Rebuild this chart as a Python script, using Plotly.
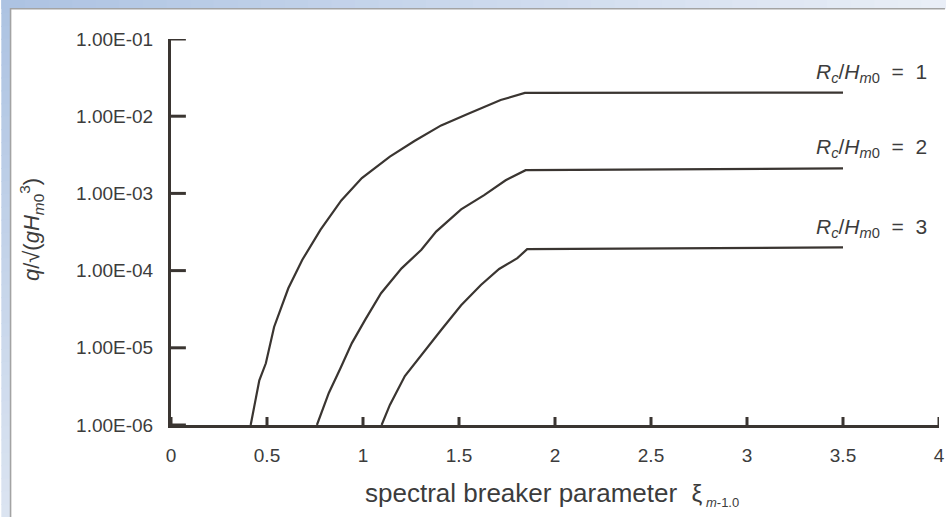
import plotly.graph_objects as go

# ---- data ----
xi_rc1 = [0.415, 0.46, 0.494, 0.537, 0.611, 0.684, 0.779, 0.887, 0.994, 1.14, 1.27, 1.407, 1.545, 1.717, 1.843, 3.5]
q_rc1 = [1.0e-6, 3.8e-6, 6.3e-6, 1.86e-5, 5.9e-5, 1.38e-4, 3.4e-4, 8.1e-4, 1.58e-3, 3.0e-3, 4.8e-3, 7.6e-3, 1.07e-2, 1.62e-2, 2.0e-2, 2.02e-2]

xi_rc2 = [0.76, 0.822, 0.882, 0.942, 1.011, 1.094, 1.201, 1.304, 1.381, 1.511, 1.631, 1.743, 1.847, 3.5]
q_rc2 = [1.0e-6, 2.6e-6, 5.4e-6, 1.15e-5, 2.3e-5, 5.1e-5, 1.07e-4, 1.86e-4, 3.2e-4, 6.2e-4, 9.5e-4, 1.48e-3, 2.0e-3, 2.11e-3]

xi_rc3 = [1.097, 1.14, 1.218, 1.33, 1.407, 1.511, 1.614, 1.709, 1.804, 1.855, 3.5]
q_rc3 = [1.0e-6, 1.82e-6, 4.3e-6, 9.8e-6, 1.7e-5, 3.55e-5, 6.5e-5, 1.05e-4, 1.45e-4, 1.9e-4, 2.0e-4]

series_labels = ["1", "2", "3"]
label_log_q = [-1.44, -2.41, -3.45]   # log10 of label positions

y_tickvals = [1e-6, 1e-5, 1e-4, 1e-3, 1e-2, 1e-1]
y_ticktext = ["1.00E-06", "1.00E-05", "1.00E-04", "1.00E-03", "1.00E-02", "1.00E-01"]
x_tickvals = [0, 0.5, 1, 1.5, 2, 2.5, 3, 3.5, 4]
x_ticktext = ["0", "0.5", "1", "1.5", "2", "2.5", "3", "3.5", "4"]

# ---- styling ----
W, H = 951, 517
L, R, T, B = 171, 6, 39, 92
INK = "#3a3531"
TXT = "#3c3c3c"
FONT = "Liberation Sans, Arial, sans-serif"
pw, ph = W - L - R, H - T - B
X_RANGE = [0, 4]
Y_LOG_RANGE = [-6, -1]
px_per_x = pw / (X_RANGE[1] - X_RANGE[0])
px_per_decade = ph / (Y_LOG_RANGE[1] - Y_LOG_RANGE[0])

def px_to_paper(px, py):
    return (px - L) / pw, (H - B - py) / ph

def mix(c1, c2, t):
    a = [int(c1[i:i + 2], 16) for i in (1, 3, 5)]
    b = [int(c2[i:i + 2], 16) for i in (1, 3, 5)]
    return "#" + "".join(f"{round(a[k] + (b[k] - a[k]) * t):02x}" for k in range(3))

fig = go.Figure()
for xs, ys, nm in [(xi_rc1, q_rc1, "1"), (xi_rc2, q_rc2, "2"), (xi_rc3, q_rc3, "3")]:
    fig.add_trace(go.Scatter(x=xs, y=ys, mode="lines", name=nm,
                             line=dict(color=INK, width=2.2), showlegend=False,
                             hoverinfo="skip"))

# inward tick marks drawn at the axis tick values (8 px on x, 15 px on y)
ymin = 10 ** Y_LOG_RANGE[0]
tx, ty = [], []
for v in x_tickvals:
    tx += [v, v, None]
    ty += [ymin, ymin * 10 ** (8 / px_per_decade), None]
for v in y_tickvals:
    tx += [X_RANGE[0], X_RANGE[0] + 15 / px_per_x, None]
    ty += [v, v, None]
fig.add_trace(go.Scatter(x=tx, y=ty, mode="lines", line=dict(color=INK, width=3),
                         showlegend=False, hoverinfo="skip", cliponaxis=False))

# decorative frame: gradient strips on top and left, grey border line
shapes = []
N = 40
for i in range(N):
    x0, y0 = px_to_paper(W * i / N, 0)
    x1, y1 = px_to_paper(W * (i + 1) / N + 1, 9)
    shapes.append(dict(type="rect", xref="paper", yref="paper", x0=x0, x1=x1, y0=y1, y1=y0,
                       fillcolor=mix("#adc3e2", "#e9eef7", i / (N - 1)), line=dict(width=0),
                       layer="below"))
for i in range(N):
    x0, y0 = px_to_paper(0, H * i / N)
    x1, y1 = px_to_paper(9, H * (i + 1) / N + 1)
    shapes.append(dict(type="rect", xref="paper", yref="paper", x0=x0, x1=x1, y0=y1, y1=y0,
                       fillcolor=mix("#adc3e2", "#dbe4f1", i / (N - 1)), line=dict(width=0),
                       layer="below"))
x0, y0 = px_to_paper(9, 8)
x1, y1 = px_to_paper(W, 9.6)
shapes.append(dict(type="rect", xref="paper", yref="paper", x0=x0, x1=x1, y0=y1, y1=y0,
                   fillcolor="#a3a3a3", line=dict(width=0), layer="below"))
x0, y0 = px_to_paper(8.5, 8)
x1, y1 = px_to_paper(10.1, H)
shapes.append(dict(type="rect", xref="paper", yref="paper", x0=x0, x1=x1, y0=y1, y1=y0,
                   fillcolor="#a3a3a3", line=dict(width=0), layer="below"))

# series labels
lx = (935 - L) / px_per_x
for lab, ly in zip(series_labels, label_log_q):
    fig.add_annotation(x=lx, y=ly, xref="x", yref="y", xanchor="right", yanchor="middle",
                       showarrow=False,
                       text=f"<i>R</i><sub><i>c</i></sub>/<i>H</i><sub><i>m</i>0</sub>  =  {lab}",
                       font=dict(family=FONT, size=21, color=TXT))

# axis titles
ax, ay = px_to_paper(30, 230)
fig.add_annotation(x=ax, y=ay, xref="paper", yref="paper", showarrow=False, textangle=-90,
                   xanchor="center", yanchor="middle",
                   text="<i>q</i>/√(<i>gH</i><sub><i>m</i>0</sub><sup>3</sup>)",
                   font=dict(family=FONT, size=22, color=TXT))
bx, by = px_to_paper(555, 494)
fig.add_annotation(x=bx, y=by, xref="paper", yref="paper", showarrow=False,
                   xanchor="center", yanchor="middle",
                   text=("spectral breaker parameter  <span style='font-size:24px'>ξ</span>"
                         "<sub><span style='font-size:13px'> <i>m</i>-1.0</span></sub>"),
                   font=dict(family=FONT, size=26, color=TXT))

fig.update_xaxes(range=X_RANGE, tickvals=x_tickvals, ticktext=x_ticktext,
                 showgrid=False, zeroline=False, showline=True, linecolor=INK, linewidth=3,
                 ticks="", ticklabelstandoff=11,
                 tickfont=dict(family=FONT, size=19, color=TXT))
fig.update_yaxes(type="log", range=Y_LOG_RANGE, tickvals=y_tickvals, ticktext=y_ticktext,
                 showgrid=False, zeroline=False, showline=True, linecolor=INK, linewidth=3,
                 ticks="", ticklabelstandoff=11,
                 tickfont=dict(family=FONT, size=19, color=TXT))

fig.update_layout(width=W, height=H, margin=dict(l=L, r=R, t=T, b=B),
                  paper_bgcolor="white", plot_bgcolor="white",
                  showlegend=False, shapes=shapes)

fig.write_html("out.html")
